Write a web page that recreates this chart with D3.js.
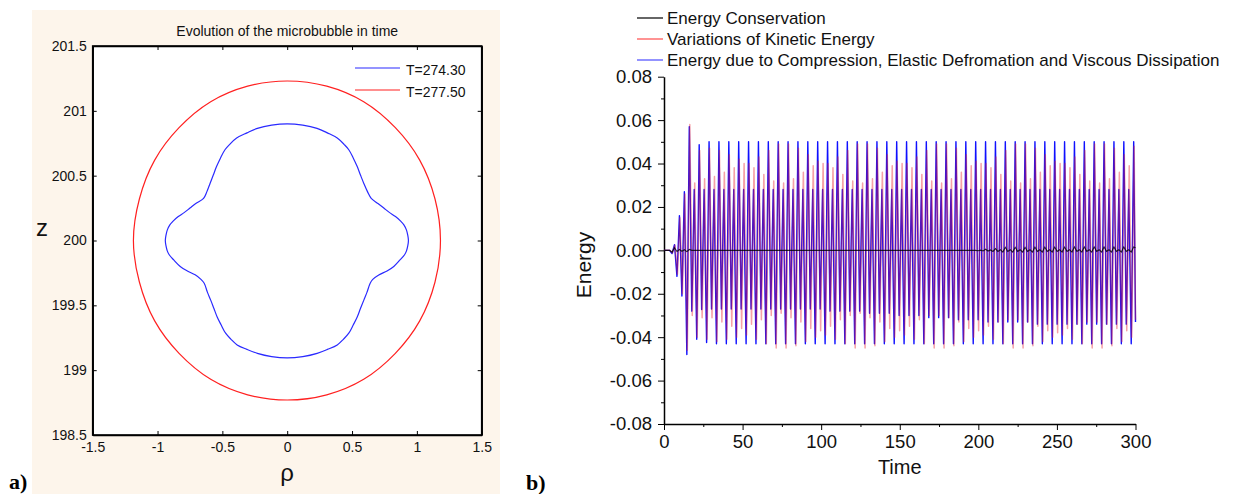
<!DOCTYPE html>
<html><head><meta charset="utf-8">
<script src="https://cdn.jsdelivr.net/npm/d3@7"></script>
<style>body{margin:0;background:#fff}svg{display:block}</style>
</head><body>
<svg id="c" width="1236" height="494"></svg>
<script>
// ================= Panel a data =================
const rhoTicks = [-1.5, -1, -0.5, 0, 0.5, 1, 1.5];
const zTicks = [198.5, 199, 199.5, 200, 200.5, 201, 201.5];
const bubbleTitle = "Evolution of the microbubble in time";
const bubbleLabels = ["T=274.30", "T=277.50"];
// contour at T=274.30 (rho, z)
const bubbleRhoA = [0.00,0.12,0.23,0.31,0.386,0.44,0.475,0.51,0.54,0.565,0.591,0.62,0.648,0.70,0.745,0.79,0.835,0.875,0.90,0.92,0.93,0.935,
  0.93,0.92,0.905,0.87,0.822,0.77,0.706,0.66,0.64,0.615,0.591,0.565,0.54,0.51,0.475,0.435,0.386,0.31,0.231,0.12,0.00,
  -0.12,-0.23,-0.31,-0.386,-0.435,-0.475,-0.51,-0.54,-0.565,-0.59,-0.615,-0.64,-0.665,-0.71,-0.77,-0.825,-0.875,-0.91,-0.925,-0.935,-0.94,
  -0.935,-0.925,-0.905,-0.88,-0.84,-0.795,-0.75,-0.705,-0.645,-0.62,-0.595,-0.57,-0.545,-0.515,-0.48,-0.445,-0.39,-0.31,-0.23,-0.12];
const bubbleZA = [200.90,200.89,200.865,200.83,200.79,200.74,200.70,200.635,200.57,200.505,200.44,200.375,200.325,200.285,200.25,200.215,200.185,200.15,200.12,200.08,200.04,200.00,
  199.96,199.92,199.89,199.85,199.80,199.765,199.734,199.70,199.67,199.60,199.54,199.475,199.41,199.35,199.285,199.24,199.195,199.16,199.13,199.105,199.095,
  199.105,199.13,199.16,199.195,199.24,199.285,199.35,199.41,199.475,199.54,199.60,199.67,199.70,199.735,199.765,199.80,199.85,199.89,199.92,199.96,200.00,
  200.04,200.08,200.12,200.15,200.185,200.215,200.25,200.285,200.325,200.375,200.44,200.505,200.57,200.635,200.70,200.74,200.79,200.83,200.865,200.89];
// contour at T=277.50 (rho, z)
const bubbleRhoB = [1.182,1.140,1.022,0.834,0.590,0.305,0.000,-0.305,-0.590,-0.834,-1.022,-1.140,-1.186,-1.140,-1.022,-0.834,-0.590,-0.305,0.000,0.305,0.590,0.834,1.022,1.140];
const bubbleZB = [200.00,200.32,200.62,200.87,201.07,201.19,201.23,201.19,201.07,200.87,200.62,200.32,200.00,199.68,199.38,199.13,198.93,198.81,198.77,198.81,198.93,199.13,199.38,199.68];

// ================= Panel b data =================
const seriesNames = ["Energy Conservation", "Variations of Kinetic Energy", "Energy due to Compression, Elastic Defromation and Viscous Dissipation"];
const timeTicks = [0, 50, 100, 150, 200, 250, 300];
const timeMinorTicks = [25, 75, 125, 175, 225, 275];
const energyTicks = [-0.08, -0.06, -0.04, -0.02, 0.00, 0.02, 0.04, 0.06, 0.08];
const energyMinorTicks = [-0.07, -0.05, -0.03, -0.01, 0.01, 0.03, 0.05, 0.07];
// samples (extrema) spaced dt apart in time, clipped to [0, 300]
const dt = 1.5708;
const tStartCompression = -1.172;
const tStartKinetic = -0.87;
const tStartConservation = -1.172;
const compressionEnergy = [
 0,0,0,0,
 -0.0015,0.0026,-0.012,0.016,-0.021,0.027,-0.048,0.057,-0.028,0.028,-0.041,0.0487,-0.0273,0.028,-0.0425,0.050,
 -0.027,0.028,-0.043,0.050, -0.027,0.028,-0.043,0.050, -0.027,0.028,-0.043,0.050, -0.027,0.028,-0.043,0.050,
 -0.027,0.028,-0.043,0.050, -0.027,0.028,-0.043,0.050, -0.027,0.028,-0.043,0.050, -0.027,0.028,-0.043,0.050,
 -0.027,0.028,-0.043,0.050, -0.027,0.028,-0.043,0.050, -0.027,0.028,-0.043,0.050, -0.027,0.028,-0.043,0.050,
 -0.028,0.028,-0.043,0.050, -0.028,0.028,-0.043,0.050, -0.028,0.028,-0.043,0.050, -0.028,0.028,-0.043,0.050,
 -0.029,0.028,-0.043,0.050, -0.029,0.028,-0.043,0.050, -0.029,0.028,-0.043,0.050, -0.030,0.028,-0.043,0.050,
 -0.030,0.028,-0.043,0.050, -0.030,0.028,-0.043,0.050, -0.031,0.028,-0.043,0.050, -0.031,0.028,-0.043,0.050,
 -0.031,0.028,-0.043,0.050, -0.032,0.028,-0.043,0.050, -0.032,0.028,-0.043,0.050, -0.032,0.028,-0.043,0.050,
 -0.033,0.028,-0.043,0.050, -0.033,0.028,-0.043,0.050, -0.033,0.028,-0.043,0.050, -0.033,0.028,-0.043,0.050,
 -0.033,0.028,-0.043,0.050, -0.034,0.028,-0.043,0.050, -0.034,0.028,-0.043,0.050, -0.034,0.028,-0.043,0.050,
 -0.034,0.028,-0.043,0.050, -0.034,0.028,-0.043,0.050, -0.034,0.028,-0.043,0.050, -0.034,0.028,-0.043,0.050,
 -0.034,0.028,-0.043,0.050, -0.034,0.028,-0.043,0.050, -0.034,0.028,-0.043,0.050,
 -0.033];
const kineticVariation = [
 0,0,0,0,
 -0.0012,0.0024,-0.011,0.015,-0.020,0.026,-0.046,0.058,-0.030,0.031,-0.040,0.046,-0.031,0.033,-0.041,0.047,
 -0.031,0.034,-0.042,0.046, -0.033,0.036,-0.041,0.044, -0.035,0.038,-0.040,0.042, -0.036,0.040,-0.039,0.040,
 -0.034,0.038,-0.041,0.043, -0.032,0.035,-0.043,0.046, -0.030,0.032,-0.045,0.049, -0.029,0.031,-0.045,0.049,
 -0.031,0.033,-0.044,0.047, -0.033,0.036,-0.042,0.044, -0.036,0.039,-0.040,0.041, -0.037,0.040,-0.039,0.040,
 -0.035,0.038,-0.041,0.043, -0.032,0.035,-0.043,0.046, -0.030,0.032,-0.045,0.049, -0.029,0.031,-0.045,0.049,
 -0.031,0.033,-0.044,0.047, -0.033,0.036,-0.042,0.044, -0.036,0.039,-0.040,0.041, -0.037,0.040,-0.039,0.040,
 -0.035,0.038,-0.041,0.043, -0.032,0.035,-0.043,0.046, -0.030,0.032,-0.045,0.049, -0.030,0.031,-0.045,0.049,
 -0.031,0.033,-0.044,0.047, -0.033,0.036,-0.042,0.044, -0.036,0.039,-0.040,0.041, -0.037,0.040,-0.039,0.040,
 -0.035,0.038,-0.041,0.043, -0.033,0.035,-0.043,0.046, -0.032,0.032,-0.045,0.049, -0.032,0.031,-0.045,0.049,
 -0.033,0.033,-0.044,0.047, -0.035,0.036,-0.042,0.044, -0.037,0.039,-0.040,0.041, -0.038,0.040,-0.039,0.040,
 -0.036,0.038,-0.041,0.043, -0.034,0.035,-0.043,0.046, -0.033,0.032,-0.045,0.049, -0.033,0.031,-0.045,0.049,
 -0.034,0.033,-0.044,0.047, -0.036,0.036,-0.042,0.044, -0.037,0.039,-0.040,0.048,
 -0.032];
const energyConservation = [
 0,0,0,0,
 -0.0008,0.0012,-0.0005,0.0004,-0.0004,0.0003,-0.0006,0.0004,0,0,0,0,0,0,0,0,
 0,0,0,0, 0,0,0,0, 0,0,0,0, 0,0,0,0, 0,0,0,0, 0,0,0,0, 0,0,0,0, 0,0,0,0,
 0,0,0,0, 0,0,0,0, 0,0,0,0, 0,0,0,0, 0,0,0,0, 0,0,0,0, 0,0,0,0, 0,0,0,0,
 0,0,0,0, 0,0,0,0, 0,0,0,0, 0,0,0,0, 0,0,0,0, 0,0,0,0, 0,0,0,0, 0,0,0,0,
 0,0,0,0, 0,0,0,0, 0,0,0,0,
 -0.0002,0.0001,-0.0003,0.0005, -0.0003,0.0002,-0.0005,0.0008, -0.0005,0.0003,-0.0008,0.0014, -0.0005,0.0003,-0.0008,0.0014,
 -0.0005,0.0003,-0.0008,0.0014, -0.0005,0.0003,-0.0008,0.0015, -0.0005,0.0003,-0.0008,0.0015, -0.0005,0.0003,-0.0008,0.0015,
 -0.0005,0.0003,-0.0008,0.0015, -0.0005,0.0003,-0.0008,0.0016, -0.0005,0.0003,-0.0008,0.0016, -0.0005,0.0003,-0.0008,0.0016,
 -0.0005,0.0003,-0.0008,0.0016, -0.0005,0.0003,-0.0008,0.0016, -0.0005,0.0003,-0.0008,0.0016, -0.0005,0.0003,-0.0008,0.0016,
 0.0012];

// ================= drawing =================
const SANS = '"Liberation Sans", Arial, sans-serif';
const SERIF = '"Liberation Serif", "Times New Roman", serif';
const svg = d3.select("#c");

// ---------- Panel a ----------
const A = {x0: 92.7, x1: 481.7, y0: 46, y1: 435};
svg.append("rect").attr("x", 32).attr("y", 10).attr("width", 468).attr("height", 484).attr("fill", "#fdf5eb");
svg.append("rect").attr("x", A.x0).attr("y", A.y0).attr("width", A.x1 - A.x0).attr("height", A.y1 - A.y0).attr("fill", "#fff");

const xA = d3.scaleLinear().domain([-1.5, 1.5]).range([A.x0, A.x1]);
const yA = d3.scaleLinear().domain([198.5, 201.5]).range([A.y1, A.y0]);

function styleAxis(g, size) {
  g.select(".domain").attr("stroke", "#000").attr("stroke-width", 1.5);
  g.selectAll(".tick line").attr("stroke", "#000").attr("stroke-width", 1);
  g.selectAll(".tick text").attr("font-family", SANS).attr("font-size", size).attr("fill", "#111");
}
const gAb = svg.append("g").attr("transform", `translate(0,${A.y1})`)
  .call(d3.axisBottom(xA).tickValues(rhoTicks).tickFormat(d => String(d)).tickSizeInner(-4).tickSizeOuter(0).tickPadding(7));
styleAxis(gAb, 14);
const gAt = svg.append("g").attr("transform", `translate(0,${A.y0})`)
  .call(d3.axisTop(xA).tickValues(rhoTicks).tickFormat("").tickSizeInner(-4).tickSizeOuter(0));
styleAxis(gAt, 14);
const gAl = svg.append("g").attr("transform", `translate(${A.x0},0)`)
  .call(d3.axisLeft(yA).tickValues(zTicks).tickFormat(d => String(d)).tickSizeInner(-4).tickSizeOuter(0).tickPadding(6));
styleAxis(gAl, 14);
const gAr = svg.append("g").attr("transform", `translate(${A.x1},0)`)
  .call(d3.axisRight(yA).tickValues(zTicks).tickFormat("").tickSizeInner(-4).tickSizeOuter(0));
styleAxis(gAr, 14);
// plot frame
svg.append("rect").attr("x", xA(-1.5)).attr("y", yA(201.5)).attr("width", xA(1.5) - xA(-1.5)).attr("height", yA(198.5) - yA(201.5))
  .attr("fill", "none").attr("stroke", "#000").attr("stroke-width", 1.6);

const lineA = d3.line().x(d => xA(d[0])).y(d => yA(d[1])).curve(d3.curveCatmullRomClosed);
const contourA = bubbleRhoA.map((r, i) => [r, bubbleZA[i]]);
const contourB = bubbleRhoB.map((r, i) => [r, bubbleZB[i]]);
const bubbleColors = ["#2a2aff", "#ff2020"];
svg.append("path").attr("d", lineA(contourB)).attr("fill", "none").attr("stroke", bubbleColors[1]).attr("stroke-width", 1.2);
svg.append("path").attr("d", lineA(contourA)).attr("fill", "none").attr("stroke", bubbleColors[0]).attr("stroke-width", 1.2);

svg.append("text").attr("x", (A.x0 + A.x1) / 2).attr("y", 36).attr("text-anchor", "middle")
  .attr("font-family", SANS).attr("font-size", 14).attr("fill", "#111").text(bubbleTitle);
bubbleLabels.forEach((lab, i) => {
  const y = 68 + i * 22;
  svg.append("line").attr("x1", 355).attr("x2", 400).attr("y1", y).attr("y2", y).attr("stroke", bubbleColors[i]).attr("stroke-width", 1.2);
  svg.append("text").attr("x", 406).attr("y", y + 7).attr("font-family", SANS).attr("font-size", 14).attr("fill", "#111").text(lab);
});
svg.append("text").attr("x", (A.x0 + A.x1) / 2).attr("y", 481).attr("text-anchor", "middle")
  .attr("font-family", SANS).attr("font-size", 24).attr("fill", "#111").text("ρ");
svg.append("text").attr("x", 42).attr("y", 236).attr("text-anchor", "middle")
  .attr("font-family", SANS).attr("font-size", 24).attr("fill", "#111").text("z");
svg.append("text").attr("x", 9).attr("y", 489).attr("font-family", SERIF).attr("font-weight", "bold")
  .attr("font-size", 22).attr("fill", "#000").text("a)");

// ---------- Panel b ----------
const B = {x0: 664, x1: 1135.5, y0: 76.7, y1: 424};
const xB = d3.scaleLinear().domain([0, 300]).range([B.x0, B.x1]);
const yB = d3.scaleLinear().domain([-0.08, 0.08]).range([B.y1, B.y0]);

const gBb = svg.append("g").attr("transform", `translate(0,${B.y1})`)
  .call(d3.axisBottom(xB).tickValues(timeTicks).tickFormat(d => String(d)).tickSizeInner(6).tickSizeOuter(0).tickPadding(5));
styleAxis(gBb, 18.5);
svg.append("g").attr("transform", `translate(0,${B.y1})`)
  .call(d3.axisBottom(xB).tickValues(timeMinorTicks).tickFormat("").tickSizeInner(3).tickSizeOuter(0))
  .call(g => { g.select(".domain").remove(); g.selectAll("line").attr("stroke", "#000"); });
const gBl = svg.append("g").attr("transform", `translate(${B.x0},0)`)
  .call(d3.axisLeft(yB).tickValues(energyTicks).tickFormat(d => d.toFixed(2)).tickSizeInner(6).tickSizeOuter(0).tickPadding(6));
styleAxis(gBl, 18.5);
svg.append("g").attr("transform", `translate(${B.x0},0)`)
  .call(d3.axisLeft(yB).tickValues(energyMinorTicks).tickFormat("").tickSizeInner(3).tickSizeOuter(0))
  .call(g => { g.select(".domain").remove(); g.selectAll("line").attr("stroke", "#000"); });

const toPts = (vals, t0) => vals.map((v, i) => [Math.min(300, Math.max(0, t0 + i * dt)), v]);
const lineB = d3.line().x(d => xB(d[0])).y(d => yB(d[1]));
const seriesColors = ["#000000", "#e8202a", "#1010ff"];
svg.append("path").attr("d", lineB(toPts(compressionEnergy, tStartCompression))).attr("fill", "none")
  .attr("stroke", seriesColors[2]).attr("stroke-width", 1.4).attr("stroke-linejoin", "round");
svg.append("path").attr("d", lineB(toPts(kineticVariation, tStartKinetic))).attr("fill", "none")
  .attr("stroke", seriesColors[1]).attr("stroke-width", 1.5).attr("stroke-opacity", 0.42).attr("stroke-linejoin", "round");
svg.append("path").attr("d", lineB(toPts(energyConservation, tStartConservation))).attr("fill", "none")
  .attr("stroke", seriesColors[0]).attr("stroke-width", 1.1).attr("stroke-opacity", 0.8);

const legendColors = ["#000000", "#ff4a4a", "#4a4aff"];
seriesNames.forEach((name, i) => {
  const y = 18 + i * 21;
  svg.append("line").attr("x1", 637).attr("x2", 663).attr("y1", y).attr("y2", y).attr("stroke", legendColors[i]).attr("stroke-width", 1.2);
  svg.append("text").attr("x", 667).attr("y", y + 6).attr("font-family", SANS).attr("font-size", 17).attr("fill", "#111").text(name);
});
svg.append("text").attr("x", (B.x0 + B.x1) / 2).attr("y", 474).attr("text-anchor", "middle")
  .attr("font-family", SANS).attr("font-size", 20).attr("fill", "#111").text("Time");
svg.append("text").attr("transform", "translate(591,265) rotate(-90)").attr("text-anchor", "middle")
  .attr("font-family", SANS).attr("font-size", 21).attr("fill", "#111").text("Energy");
svg.append("text").attr("x", 526).attr("y", 490).attr("font-family", SERIF).attr("font-weight", "bold")
  .attr("font-size", 22).attr("fill", "#000").text("b)");
</script>
</body></html>
